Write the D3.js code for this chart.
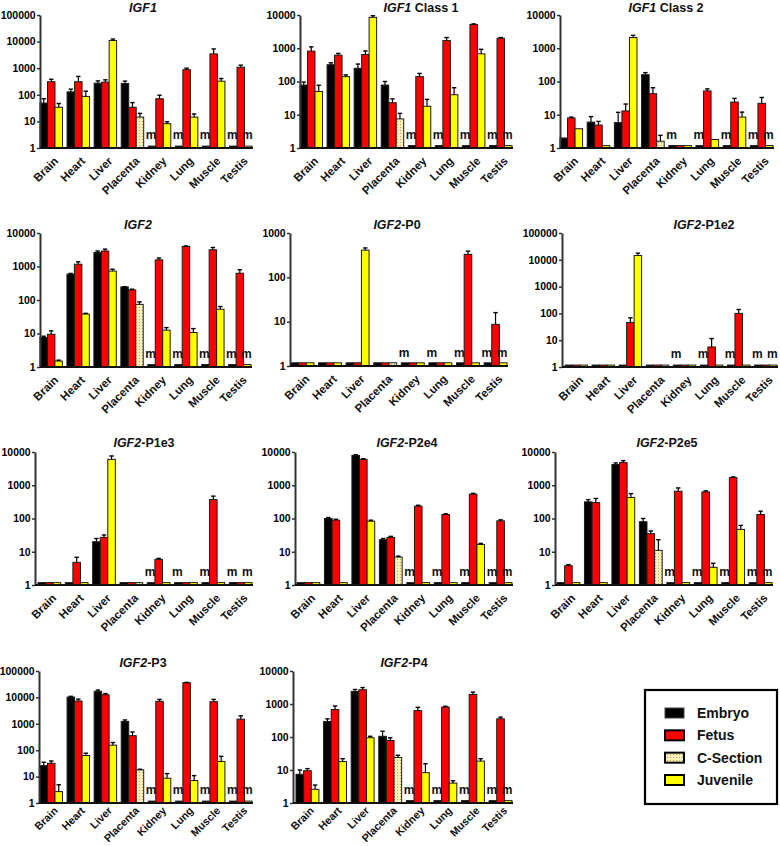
<!DOCTYPE html>
<html><head><meta charset="utf-8">
<script src="https://cdn.jsdelivr.net/npm/d3@7"></script>
<style>
html,body{margin:0;padding:0;background:#fff;}
svg{display:block;font-family:"Liberation Sans",Arial,sans-serif;}
</style></head>
<body>
<svg id="chart" width="780" height="846"></svg>
<script>
// ---------- DATA ----------
const categories = ["Brain","Heart","Liver","Placenta","Kidney","Lung","Muscle","Testis"];
const seriesNames = ["Embryo","Fetus","C-Section","Juvenile"];
// third bar of each group: C-Section for placenta, Juvenile elsewhere
const thirdSlot = ["Juvenile","Juvenile","Juvenile","C-Section","Juvenile","Juvenile","Juvenile","Juvenile"];
// missing samples marked "m": [category, series]
const missingMarks = [["Kidney","Embryo"],["Lung","Embryo"],["Muscle","Embryo"],["Testis","Embryo"],["Testis","Juvenile"]];

const panelTitles = [["IGF1",""],["IGF1"," Class 1"],["IGF1"," Class 2"],["IGF2",""],["IGF2","-P0"],["IGF2","-P1e2"],
  ["IGF2","-P1e3"],["IGF2","-P2e4"],["IGF2","-P2e5"],["IGF2","-P3"],["IGF2","-P4"]];
const panelYMax = [100000,10000,10000,10000,1000,100000,10000,10000,10000,100000,10000];

// mean per category: [Embryo, Fetus, third slot]; null = not detected
const igf1Mean = [[49,310,34],[129,310,87],[273,300,11000],[267,34,14.5],[null,71,8.2],[null,880,14.5],[null,3450,325],[null,1090,null]];
const igf1Sem  = [[22,75,13],[34,180,50],[60,65,1500],[60,17,5.5],[0,26,1.5],[0,120,4.5],[0,1850,85],[0,210,0]];
const igf1c1Mean = [[78,820,50],[320,620,140],[250,650,8500],[78,23,7.5],[null,140,18],[null,1700,40],[null,5200,680],[null,2000,null]];
const igf1c1Sem  = [[18,280,27],[45,80,18],[85,180,1000],[22,7,3.5],[0,35,11],[0,400,25],[0,200,250],[0,100,0]];
const igf1c2Mean = [[2,8,3.8],[6,4.9,null],[5.8,13,2100],[160,43,1.6],[null,null,null],[null,52,1.8],[null,24,8.5],[null,22,null]];
const igf1c2Sem  = [[0,0.5,0],[2.8,1.4,0],[6,8,350],[25,22,0.8],[0,0,0],[0,8,0],[0,7,3.5],[0,11,0]];
const igf2Mean = [[7.6,9.5,1.5],[590,1170,38],[2630,2900,730],[245,200,74],[null,1580,12.6],[null,3980,10.7],[null,3160,53],[null,630,null]];
const igf2Sem  = [[0.7,2.5,0.1],[30,210,2],[270,400,100],[5,10,14],[0,220,2.4],[0,120,3.3],[0,540,11],[0,170,0]];
const p0Mean = [[null,null,null],[null,null,null],[null,null,410],[null,null,null],[null,null,null],[null,null,null],[null,330,null],[null,8.7,null]];
const p0Sem  = [[0,0,0],[0,0,0],[0,0,50],[0,0,0],[0,0,0],[0,0,0],[0,60,0],[0,7.3,0]];
const p1e2Mean = [[null,null,null],[null,null,null],[null,46,14500],[null,null,null],[null,null,null],[null,5.6,null],[null,100,null],[null,null,null]];
const p1e2Sem  = [[0,0,0],[0,0,0],[0,22,3200],[0,0,0],[0,0,0],[0,5.9,0],[0,40,0],[0,0,0]];
const p1e3Mean = [[null,null,null],[null,4.8,null],[20,27,6000],[null,null,null],[null,5.9,null],[null,null,null],[null,370,null],[null,null,null]];
const p1e3Sem  = [[0,0,0],[0,2,0],[5,5,1600],[0,0,0],[0,0.4,0],[0,0,0],[0,100,0],[0,0,0]];
const p2e4Mean = [[null,null,null],[100,89,null],[7900,6000,83],[23,27,6.9],[null,235,null],[null,132,null],[null,540,16.6],[null,85,null]];
const p2e4Sem  = [[0,0,0],[7,6,0],[400,300,6],[2,2,0.5],[0,15,0],[0,6,0],[0,30,1.2],[0,6,0]];
const p2e5Mean = [[null,3.8,null],[316,300,null],[4200,4800,430],[80,35,11],[null,660,null],[null,630,3.4],[null,1700,47],[null,132,null]];
const p2e5Sem  = [[0,0.3,0],[54,100,0],[500,700,130],[20,7,12],[0,170,0],[0,50,1.1],[0,80,15],[0,34,0]];
const p3Mean = [[26,32,2.7],[10300,7300,63],[17000,12600,155],[1230,355,18],[null,7100,8.7],[null,36000,7.1],[null,6900,37.6],[null,1500,null]];
const p3Sem  = [[9,7,2.2],[700,1300,14],[2000,1400,40],[170,135,1],[0,1300,4.3],[0,1000,3.8],[0,1500,21],[0,500,0]];
const p4Mean = [[7.4,9.5,2.6],[295,680,18],[2400,2700,95],[105,79,24],[null,630,8.3],[null,810,4],[null,1950,18.6],[null,355,null]];
const p4Sem  = [[2.6,1.5,0.9],[60,190,4],[350,450,10],[45,16,4],[0,160,7.2],[0,40,0.7],[0,340,3.4],[0,45,0]];

const panelMeans = [igf1Mean,igf1c1Mean,igf1c2Mean,igf2Mean,p0Mean,p1e2Mean,p1e3Mean,p2e4Mean,p2e5Mean,p3Mean,p4Mean];
const panelSems  = [igf1Sem,igf1c1Sem,igf1c2Sem,igf2Sem,p0Sem,p1e2Sem,p1e3Sem,p2e4Sem,p2e5Sem,p3Sem,p4Sem];

// ---------- LAYOUT ----------
// [axisX, bandStart, bandEnd, top, bottom, titleX, titleY, labelOffset, labelFont]
const layout = [
  [40,40,252,15,148,143,8,8,11.5],[300,300,512,15,148,421,8,8,11.5],[560,560,773,15,148,666,8,8,11.5],
  [40,40,251,233,367,138,225,8,11.5],[290,291,507,233,366,397,225,8,11.5],[562,565,777,233,367,704,225,8,11.5],
  [35,38,252,452,585,144,443,8,11.5],[295,297,512,452,585,407,443,8,11.5],[555,557,772,452,585,667,443,8,11.5],
  [39,40,252,671,803,143,663,3,10.8],[293,296,512,671,803,404,663,3,10.8]
];
const STUB = 1.18;
const colors = {"Embryo":"#000000","Fetus":"#ff0000","C-Section":"url(#dots)","Juvenile":"#ffff00"};

const svg = d3.select("#chart");
const defs = svg.append("defs");
const pat = defs.append("pattern").attr("id","dots").attr("width",3).attr("height",3).attr("patternUnits","userSpaceOnUse");
pat.append("rect").attr("width",3).attr("height",3).attr("fill","#f8f0b8");
pat.append("rect").attr("x",1).attr("y",1).attr("width",1).attr("height",1).attr("fill","#b9ab6c");

panelTitles.forEach((t,pi)=>{
  const [ax,b0,b1,top,bot,tx,ty,lo,lf] = layout[pi];
  const g = svg.append("g");
  const y = d3.scaleLog().domain([1,panelYMax[pi]]).range([bot,top]);
  const x = d3.scaleBand().domain(categories).range([b0,b1]).paddingInner(0.17).paddingOuter(0);
  const xs = d3.scaleBand().domain([0,1,2]).range([0,x.bandwidth()]);
  const means = panelMeans[pi], sems = panelSems[pi];

  // bars
  categories.forEach((c,ci)=>{
    [0,1,2].forEach(si=>{
      const sName = si===0?"Embryo":si===1?"Fetus":thirdSlot[ci];
      const v = means[ci][si];
      const val = v==null?STUB:v;
      const bx = x(c)+xs(si);
      g.append("rect").attr("x",bx).attr("y",y(val)).attr("width",xs.bandwidth())
        .attr("height",Math.max(0,y(1)-y(val))).attr("fill",colors[sName])
        .attr("stroke","#1a1a1a").attr("stroke-width",1);
      const e = sems[ci][si];
      if(v!=null && e>0){
        const cx = bx+xs.bandwidth()/2, y0=y(val), y1=y(val+e);
        g.append("line").attr("x1",cx).attr("x2",cx).attr("y1",y0).attr("y2",y1).attr("stroke","#000").attr("stroke-width",1.2);
        g.append("line").attr("x1",cx-2.2).attr("x2",cx+2.2).attr("y1",y1).attr("y2",y1).attr("stroke","#000").attr("stroke-width",1.4);
      }
    });
  });
  // missing marks
  missingMarks.forEach(([c,s])=>{
    const si = s==="Embryo"?0:s==="Fetus"?1:2;
    g.append("text").attr("x",x(c)+xs(si)+xs.bandwidth()/2-1).attr("y",bot-9)
      .attr("text-anchor","middle").attr("font-size",12).attr("font-weight","bold").attr("fill","#111").text("m");
  });

  // y axis
  const ticks = d3.range(0,Math.round(Math.log10(panelYMax[pi]))+1).map(k=>Math.pow(10,k));
  const ya = g.append("g").attr("transform",`translate(${ax},0)`)
    .call(d3.axisLeft(y).tickValues(ticks).tickFormat(d3.format("d")).tickSize(3).tickSizeOuter(0).tickPadding(1.5));
  ya.select(".domain").attr("stroke","#333").attr("stroke-width",2);
  ya.selectAll(".tick line").attr("stroke","#333").attr("stroke-width",1.5);
  ya.selectAll(".tick text").attr("font-size",10.4).attr("font-weight","bold").attr("fill","#000")
    .attr("font-family",'"Liberation Sans",Arial,sans-serif');
  // x axis baseline
  g.append("line").attr("x1",ax).attr("x2",b1+1).attr("y1",bot).attr("y2",bot).attr("stroke","#111").attr("stroke-width",2);
  // x labels
  categories.forEach(c=>{
    const cx = x(c)+x.bandwidth()/2;
    g.append("text").attr("transform",`translate(${cx+2},${bot+lo}) rotate(-45)`)
      .attr("text-anchor","end").attr("dy","0.7em").attr("font-size",lf).attr("font-weight","bold").attr("fill","#111").text(c);
  });
  // title
  const tt = g.append("text").attr("x",tx).attr("y",ty).attr("dy","0.35em").attr("text-anchor","middle")
    .attr("font-size",12.5).attr("font-weight","bold").attr("fill","#111");
  tt.append("tspan").attr("font-style","italic").text(t[0]);
  tt.append("tspan").text(t[1]);
});

// legend
const lg = svg.append("g");
lg.append("rect").attr("x",645).attr("y",690).attr("width",132).attr("height",114).attr("fill","#fff").attr("stroke","#000").attr("stroke-width",2.2);
const legY = d3.scalePoint().domain(seriesNames).range([713,780]);
seriesNames.forEach(s=>{
  lg.append("rect").attr("x",665).attr("y",legY(s)-5).attr("width",19).attr("height",10)
    .attr("fill",colors[s]).attr("stroke",s==="Embryo"?"#444":"#000").attr("stroke-width",s==="Embryo"?1:2);
  lg.append("text").attr("x",697).attr("y",legY(s)).attr("dy","0.36em").attr("font-size",14).attr("font-weight","bold").attr("fill","#111").text(s);
});
</script>
</body></html>
